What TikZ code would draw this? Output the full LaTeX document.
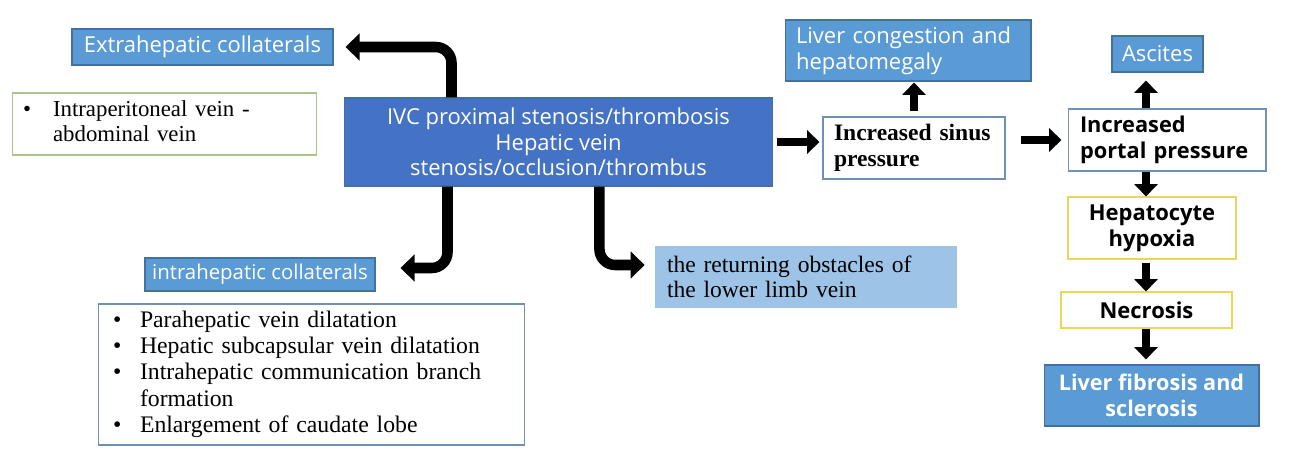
\documentclass[tikz,border=0pt]{standalone}
\usepackage{fontspec}
\setmainfont{Liberation Serif}
\setsansfont{Open Sans}
\usetikzlibrary{arrows.meta, positioning, calc}
\definecolor{MidBlue}{RGB}{91,155,213}
\definecolor{DeepBlue}{RGB}{68,114,196}
\definecolor{PaleBlue}{RGB}{157,195,230}
\definecolor{EdgeBlue}{RGB}{65,113,156}
\definecolor{GreyBlue}{RGB}{110,145,180}
\definecolor{SoftGreen}{RGB}{169,196,140}
\definecolor{SoftYellow}{RGB}{236,214,90}

\tikzset{
  bluebox/.style={fill=MidBlue, draw=EdgeBlue, line width=0.6pt, text=white,
                  font=\sffamily\fontsize{12.5}{14.8}\selectfont, inner sep=0pt},
  whitebox/.style={fill=white, draw=GreyBlue, line width=0.6pt, text=black, inner sep=0pt},
  yellowbox/.style={fill=white, draw=SoftYellow, line width=0.6pt, text=black,
                  font=\sffamily\bfseries\fontsize{12.5}{14.8}\selectfont, inner sep=0pt},
  fat/.style={line width=4.5pt, -{Triangle[length=7pt, width=13pt]}},
  elbow/.style={line width=6pt, rounded corners=9pt, -{Triangle[length=8pt, width=15pt]}}
}

\begin{document}
\begin{tikzpicture}[x=0.02cm, y=-0.02cm]
\useasboundingbox (0,0) rectangle (1299,466);

% --- cause ---
\node[fill=DeepBlue, draw=EdgeBlue, line width=0.6pt, text=white, align=center,
      font=\sffamily\fontsize{12.5}{14.6}\selectfont, minimum width=8.58cm, minimum height=1.76cm]
      (main) at (558.5,142)
    {IVC proximal stenosis/thrombosis\\Hepatic vein\\stenosis/occlusion/thrombus};

% --- collaterals, left side ---
\node[bluebox, minimum width=5.22cm, minimum height=0.72cm] (extra) at (202.5,47)
    {Extrahepatic collaterals};
\node[whitebox, draw=SoftGreen, font=\fontsize{13}{14.4}\selectfont, align=left,
      text width=5.66cm, inner xsep=0.22cm, minimum height=1.24cm] (peri) at (164.5,124)
    {\begin{tabular}{@{}p{0.6cm}@{}l@{}}\textbullet & Intraperitoneal vein -\\ & abdominal vein\end{tabular}};
\node[bluebox, font=\sffamily\fontsize{11.6}{14}\selectfont, minimum width=4.60cm,
      minimum height=0.66cm] (intra) at (260,274.5)
    {intrahepatic collaterals};
\node[whitebox, font=\fontsize{13.5}{15}\selectfont, align=left,
      text width=7.94cm, inner xsep=0.3cm, minimum height=2.82cm] (list) at (311.5,374.5)
    {\begin{tabular}{@{}p{0.54cm}@{}l@{}}
      \textbullet & Parahepatic vein dilatation\\
      \textbullet & Hepatic subcapsular vein dilatation\\
      \textbullet & Intrahepatic communication branch\\
                  & formation\\
      \textbullet & Enlargement of caudate lobe
     \end{tabular}};

% --- lower limb ---
\node[fill=PaleBlue, inner sep=0pt, font=\fontsize{13.4}{14.6}\selectfont, align=left,
      text width=5.56cm, inner xsep=0.24cm, minimum height=1.24cm] (limb) at (806,277)
    {the returning obstacles of\\the lower limb vein};

% --- hepatic chain ---
\node[whitebox, font=\bfseries\fontsize{13.4}{14.8}\selectfont, align=left,
      text width=3.2cm, inner xsep=0.22cm, minimum height=1.24cm] (sinus) at (914,148)
    {Increased sinus\\pressure};
\node[bluebox, align=left, text width=4.48cm, inner xsep=0.22cm, minimum height=1.22cm]
      (cong) at (908,50.5)
    {Liver congestion and\\hepatomegaly};
\node[whitebox, font=\sffamily\bfseries\fontsize{12.4}{14.6}\selectfont, align=left,
      text width=3.48cm, inner xsep=0.24cm, minimum height=1.24cm] (portal) at (1167,140)
    {Increased\\portal pressure};
\node[bluebox, minimum width=1.82cm, minimum height=0.72cm] (asc) at (1157.5,54) {Ascites};
\node[yellowbox, align=center, minimum width=3.36cm, minimum height=1.24cm] (hypo) at (1152,228)
    {Hepatocyte\\hypoxia};
\node[yellowbox, minimum width=3.42cm, minimum height=0.72cm] (nec) at (1146.5,310) {Necrosis};
\node[bluebox, font=\sffamily\bfseries\fontsize{12.3}{14.6}\selectfont, align=center,
      minimum width=4.30cm, minimum height=1.22cm] (fib) at (1151.5,395.5)
    {Liver fibrosis and\\sclerosis};

% --- elbow arrows ---
\draw[elbow, shorten >=0.24cm] ([xshift=2.16cm]main.north west) |- (extra.east);
\draw[elbow, shorten >=0.5cm] ([xshift=2.08cm]main.south west) |- ([yshift=0.13cm]intra.east);
\draw[elbow, shorten >=0.2cm] ([xshift=5.12cm]main.south west) |- ([yshift=0.24cm]limb.west);

% --- straight arrows ---
\coordinate (col) at (1146,0);
\draw[fat, shorten <=0.08cm, shorten >=0.06cm] (main.east) -- (main.east -| sinus.west);
\draw[fat, shorten <=0.1cm, shorten >=0.02cm] (sinus.north) -- (sinus.north |- cong.south);
\draw[fat, shorten <=0.3cm, shorten >=0.12cm] (sinus.east |- portal.west) -- (portal.west);
\draw[fat, shorten >=0.16cm] (portal.north -| col) -- (asc.south -| col);
\draw[fat] (portal.south -| col) -- (hypo.north -| col);
\draw[fat, shorten <=0.06cm] (hypo.south -| col) -- (nec.north -| col);
\draw[fat, shorten >=0.1cm] (nec.south -| col) -- (fib.north -| col);

\end{tikzpicture}
\end{document}
